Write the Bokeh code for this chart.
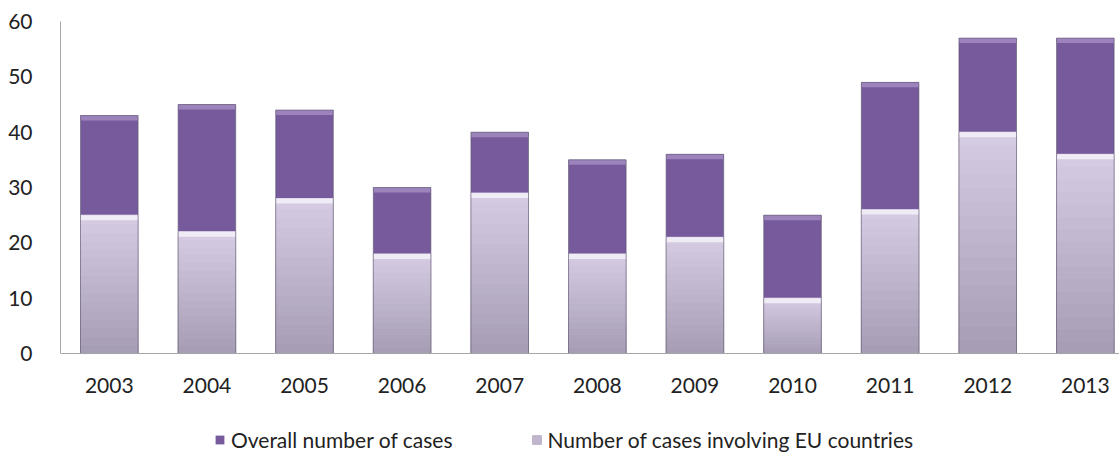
import numpy as np
from bokeh.plotting import figure
from bokeh.models import Range1d, FixedTicker, Legend, LegendItem, ColumnDataSource, Span
from bokeh.core.properties import value
from bokeh.embed import file_html
from bokeh.resources import INLINE

years = ["2003", "2004", "2005", "2006", "2007", "2008", "2009", "2010", "2011", "2012", "2013"]
overall = [43, 45, 44, 30, 40, 35, 36, 25, 49, 57, 57]
eu = [25, 22, 28, 18, 29, 18, 21, 10, 26, 40, 36]
y_ticks = [0, 10, 20, 30, 40, 50, 60]

FONT = "Lato"
BAR_W = 0.59
Y_BOTTOM = -18.43   # extra frame space below zero for category labels + legend

x = np.arange(len(years), dtype=float)
overall_a = np.array(overall, dtype=float)
eu_a = np.array(eu, dtype=float)

p = figure(width=1119, height=455,
           x_range=Range1d(-0.5, 10.35), y_range=Range1d(Y_BOTTOM, 60),
           output_backend="svg", toolbar_location=None, x_axis_location=None,
           min_border_left=60, min_border_right=0, min_border_top=21, min_border_bottom=0)
p.outline_line_color = None
p.background_fill_color = "white"
p.border_fill_color = "white"
p.xgrid.grid_line_color = None
p.ygrid.grid_line_color = None

# purple (overall) bars
purple = p.vbar(x=x, bottom=eu_a, top=overall_a, width=BAR_W,
                fill_color="#765A9B", line_color=None)
# top bevel highlight of purple
p.vbar(x=x, bottom=overall_a - 0.9, top=overall_a, width=BAR_W,
       fill_color="#9C83BC", line_color=None)

# light (EU) bars as vertical gradient bands
N = 16
top_c = np.array([0xD5, 0xCB, 0xE2], dtype=float)
bot_c = np.array([0xA6, 0x9D, 0xB4], dtype=float)
bx, bb, bt, bc = [], [], [], []
for i in range(N):
    f = (i + 0.5) / N
    c = bot_c + (top_c - bot_c) * f
    col = "#%02x%02x%02x" % tuple(int(round(v)) for v in c)
    for k in range(len(years)):
        bx.append(x[k])
        bb.append(eu_a[k] * i / N)
        bt.append(eu_a[k] * (i + 1) / N)
        bc.append(col)
src = ColumnDataSource(dict(x=bx, bottom=bb, top=bt, color=bc))
light = p.vbar(x="x", bottom="bottom", top="top", width=BAR_W, source=src,
               fill_color="color", line_color="color")
# top white bevel of light bars
p.vbar(x=x, bottom=eu_a - 0.9, top=eu_a, width=BAR_W,
       fill_color="#F0ECF5", line_color=None)
# outline
p.vbar(x=x, bottom=0, top=overall_a, width=BAR_W,
       fill_color=None, line_color="#5F5670", line_alpha=0.6, line_width=1)

# x axis line at zero and category labels
p.add_layout(Span(location=0, dimension="width", line_color="#A6A6A6", line_width=1))
p.text(x=x, y=np.zeros(len(years)), text=years, text_align="center",
       text_baseline="middle", y_offset=32, text_font=value(FONT),
       text_font_size="21px", text_color="#222222")

# y axis
yax = p.yaxis[0]
yax.ticker = FixedTicker(ticks=y_ticks)
yax.bounds = (0, 60)
yax.axis_line_color = "#A6A6A6"
yax.axis_line_width = 1
yax.major_tick_line_color = None
yax.minor_tick_line_color = None
yax.major_label_text_font = FONT
yax.major_label_text_font_size = "21px"
yax.major_label_text_color = "#222222"
yax.major_label_standoff = 22

mid_index = (N // 2) * len(years)
leg = Legend(items=[LegendItem(label="Overall number of cases", renderers=[purple]),
                    LegendItem(label="Number of cases involving EU countries",
                               renderers=[light], index=mid_index)],
             location=(154, 3), orientation="horizontal")
leg.glyph_width = 11
leg.glyph_height = 11
leg.label_standoff = 6
leg.padding = 0
leg.margin = 0
leg.spacing = 78
leg.border_line_color = None
leg.background_fill_alpha = 0
leg.label_text_font = FONT
leg.label_text_font_size = "21px"
leg.label_text_color = "#222222"
p.add_layout(leg, "center")

open("out.html", "w").write(file_html(p, INLINE))
